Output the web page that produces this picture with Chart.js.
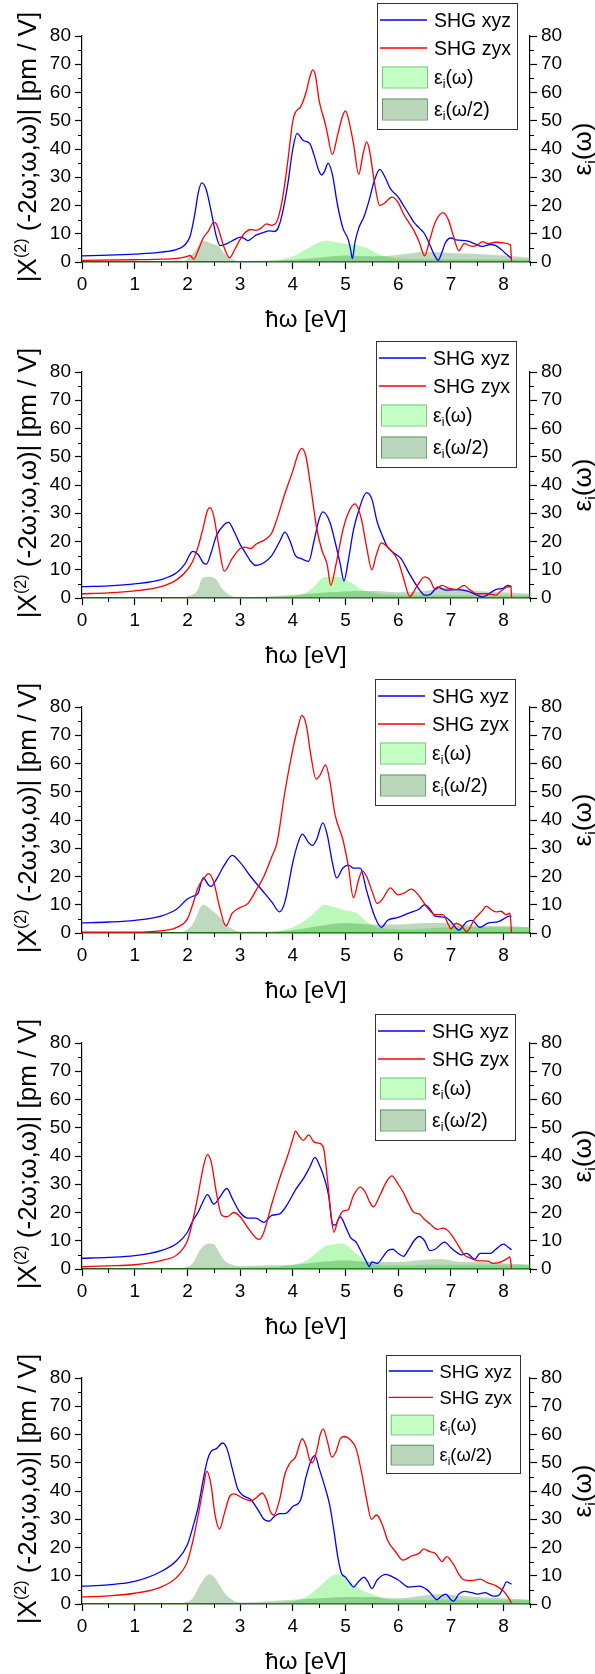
<!DOCTYPE html>
<html>
<head>
<meta charset="utf-8">
<script src="https://cdn.jsdelivr.net/npm/chart.js@4.4.0/dist/chart.umd.min.js"></script>
<style>
  body { margin: 0; background: #fff; width: 595px; height: 1674px; position: relative; overflow: hidden; }
  .panel { position: absolute; left: 0; width: 595px; }
</style>
</head>
<body>
<div id="wrap"></div>
<script>
// axis ticks
const xTickValues = [0, 1, 2, 3, 4, 5, 6, 7, 8];
const xMinorTicks = [0.5, 1.5, 2.5, 3.5, 4.5, 5.5, 6.5, 7.5, 8.5];
const yTickValues = [0, 10, 20, 30, 40, 50, 60, 70, 80];
const yMinorTicks = [5, 15, 25, 35, 45, 55, 65, 75];
const seriesNames = ['SHG xyz', 'SHG zyx', 'εi(ω)', 'εi(ω/2)'];

// panel 1  [energy eV, value]
const p1Xyz = [[0,2.2],[0.5,2.4],[1,2.8],[1.5,3.5],[1.8,4.5],[1.95,6],[2.05,9],[2.1,13],[2.15,18],[2.2,24],[2.27,28],[2.35,26],[2.45,18],[2.55,9],[2.62,5.8],[2.75,6.5],[2.9,8],[3.0,8.8],[3.08,8.3],[3.15,7.6],[3.3,9.5],[3.45,10.5],[3.55,11],[3.65,10.8],[3.72,12],[3.8,17],[3.9,27],[4.0,40],[4.08,45.5],[4.2,43],[4.32,42],[4.4,38],[4.5,32],[4.55,30.8],[4.6,32],[4.67,35],[4.75,31],[4.85,20],[4.95,12],[5.05,8],[5.1,4],[5.13,1.2],[5.18,7],[5.25,12],[5.35,16],[5.45,22],[5.55,29],[5.65,32.8],[5.75,30],[5.85,26],[6.0,23],[6.1,20],[6.2,17],[6.3,14],[6.4,12],[6.5,10],[6.6,6],[6.7,2],[6.76,0.6],[6.82,3],[6.9,7],[7.0,8.5],[7.1,7.8],[7.3,7.5],[7.45,6.5],[7.6,5.5],[7.75,6.2],[7.85,5.8],[7.95,4.5],[8.05,2.8],[8.15,1.2]];
const p1Zyx = [[0,0.6],[1,0.8],[1.5,1.0],[1.8,1.3],[2.0,2.0],[2.05,2.3],[2.12,1.0],[2.2,4],[2.3,8.5],[2.4,11],[2.5,14],[2.55,13.5],[2.6,11],[2.7,5],[2.8,1.5],[2.9,4.5],[3.0,8],[3.1,10.5],[3.2,11.5],[3.3,11.2],[3.4,12],[3.5,13.5],[3.6,13],[3.7,14.5],[3.8,22],[3.9,35],[4.0,50],[4.05,53],[4.15,55],[4.25,60],[4.33,66],[4.38,68],[4.43,66],[4.5,57],[4.6,50],[4.65,46],[4.75,38],[4.85,45],[4.95,52],[5.0,53.5],[5.05,51],[5.15,42],[5.25,31],[5.33,38],[5.4,42.5],[5.45,40],[5.55,28],[5.65,20],[5.75,21],[5.88,23],[6.0,21],[6.1,17],[6.2,14],[6.3,11],[6.4,7],[6.5,2.2],[6.6,8],[6.7,14],[6.85,17.5],[6.95,15],[7.05,9],[7.15,4],[7.25,6.5],[7.4,5.5],[7.5,6],[7.6,7.2],[7.7,6.5],[7.85,7],[8.0,6.8],[8.13,6],[8.15,0]];
const p1EpsW = [[0,0],[3.0,0.1],[3.5,0.3],[3.8,1],[4.0,2],[4.3,5],[4.5,7],[4.65,7.5],[4.8,7],[5.0,6.5],[5.2,6],[5.4,5],[5.6,3],[5.8,1.8],[6.0,1.2],[6.5,1],[7,1],[7.5,1],[8,1],[8.5,1]];
const p1EpsW2 = [[0,0],[1.8,0],[2.0,1],[2.15,4],[2.3,7.5],[2.45,6.5],[2.6,5.5],[2.7,3],[2.85,1],[3.0,0.3],[3.5,0.5],[4.0,0.8],[4.5,1.5],[5.0,2.3],[5.5,2],[6.0,2.5],[6.5,3.5],[7.0,3.2],[7.5,2.8],[8.0,2.3],[8.5,1.5]];

// panel 2
const p2Xyz = [[0,4.0],[0.5,4.3],[1,5],[1.5,6.5],[1.8,9],[1.95,12],[2.1,16.5],[2.2,15.5],[2.3,12.5],[2.36,12],[2.45,16],[2.55,22],[2.7,26],[2.78,26.8],[2.9,23],[3.0,19],[3.1,16],[3.2,13],[3.3,11.5],[3.45,12.5],[3.6,15],[3.75,20],[3.85,23.3],[3.95,20],[4.05,15],[4.15,14],[4.3,13],[4.4,20],[4.5,28],[4.57,30.5],[4.7,27],[4.8,20],[4.9,12],[4.97,6],[5.05,13],[5.15,24],[5.25,31],[5.4,37.3],[5.5,35],[5.6,27],[5.7,22],[5.8,18],[5.95,15.5],[6.05,14],[6.2,9],[6.4,3],[6.5,1],[6.6,1.2],[6.75,3.8],[6.9,2.8],[7.1,3],[7.3,2.5],[7.5,1],[7.6,0.4],[7.7,1.2],[7.85,3],[8.0,3.5],[8.07,4.5],[8.15,4]];
const p2Zyx = [[0,1.5],[0.5,1.8],[1,2.5],[1.5,4],[1.8,6.5],[2.0,10],[2.1,13],[2.2,18],[2.3,25],[2.38,31],[2.43,32],[2.5,29],[2.6,18],[2.7,9.5],[2.85,14],[3.0,17.5],[3.1,18],[3.2,17.5],[3.3,19],[3.5,21],[3.6,23],[3.7,28],[3.85,37],[4.0,45],[4.1,51],[4.17,53],[4.25,50],[4.35,38],[4.45,25],[4.55,17],[4.65,12],[4.72,4.5],[4.82,12],[4.95,24],[5.05,30],[5.18,33.3],[5.3,28],[5.4,18],[5.5,10],[5.58,15],[5.68,19.5],[5.8,18],[5.9,16],[6.0,13],[6.1,7],[6.22,0.5],[6.35,4],[6.5,7.5],[6.6,6.5],[6.7,3],[6.83,4.5],[6.95,3.5],[7.1,3],[7.25,4.5],[7.35,3],[7.5,1.5],[7.7,1.5],[7.85,1],[7.95,2.5],[8.1,4],[8.14,3.8],[8.15,0]];
const p2EpsW = [[0,0],[3.5,0.2],[3.8,0.5],[4.2,1.5],[4.4,4],[4.55,7],[4.7,7.5],[4.85,7.5],[5.0,6.5],[5.15,5],[5.3,3],[5.5,2],[6.0,1],[6.5,1],[7,1],[8.5,1]];
const p2EpsW2 = [[0,0],[1.8,0],[2.0,0.5],[2.2,3],[2.28,7],[2.4,7.5],[2.55,6.5],[2.65,3.5],[2.8,1],[3.0,0.3],[3.5,0.5],[3.9,1],[4.3,1.5],[4.7,2],[5.2,2.5],[5.6,2.5],[6.0,2],[6.5,2.5],[7.0,3.5],[7.5,2.5],[8.0,2],[8.5,1.5]];

// panel 3
const p3Xyz = [[0,3.6],[0.5,3.9],[1,4.5],[1.5,6],[1.8,8.5],[2.0,12],[2.1,13],[2.2,14],[2.3,19.5],[2.4,17],[2.45,16.5],[2.55,19],[2.7,24],[2.85,27.5],[3.0,25],[3.2,20],[3.4,15.5],[3.6,11],[3.75,7.5],[3.85,11],[4.0,25],[4.1,32],[4.18,35],[4.3,32],[4.37,31],[4.45,33],[4.57,39],[4.65,35],[4.75,25],[4.83,19.5],[4.95,23],[5.05,24],[5.15,23],[5.28,23],[5.4,15],[5.55,6],[5.68,2],[5.8,4.5],[6.0,5.5],[6.2,7],[6.4,8.5],[6.5,10],[6.6,8.5],[6.7,6],[6.9,5.5],[7.0,4],[7.15,1],[7.3,4],[7.4,4.5],[7.55,2],[7.7,3.5],[7.9,4],[8.0,5],[8.1,6],[8.15,6]];
const p3Zyx = [[0,0.3],[1,0.3],[1.3,0.5],[1.6,1],[1.8,2],[2.0,5],[2.1,10],[2.2,16],[2.3,19],[2.4,21],[2.5,18],[2.6,10],[2.73,2.5],[2.85,7],[3.0,9],[3.15,10.5],[3.3,15],[3.45,20],[3.6,27],[3.7,32],[3.85,50],[4.0,65],[4.1,73],[4.17,77],[4.25,74],[4.35,62],[4.44,54.5],[4.52,56],[4.62,59.5],[4.7,54],[4.8,42],[4.95,33],[5.05,24],[5.15,12.5],[5.25,19],[5.32,22],[5.4,20],[5.5,15],[5.6,10.5],[5.7,12],[5.85,16],[6.0,13.5],[6.1,14],[6.25,15.5],[6.4,13],[6.55,9],[6.7,6.5],[6.85,6.5],[6.95,3],[7.0,1.5],[7.1,3.5],[7.2,2.5],[7.3,0.5],[7.45,5],[7.6,8],[7.67,9.5],[7.75,8.5],[7.85,7.5],[7.95,7.7],[8.05,6.5],[8.12,7],[8.15,0]];
const p3EpsW = [[0,0],[3.5,0.3],[3.7,0.5],[4.0,2],[4.2,4],[4.4,7],[4.6,10],[4.8,9],[5.0,8],[5.2,7.2],[5.4,4],[5.6,2],[5.8,1.5],[6.0,1.2],[6.5,1.5],[7,2],[7.5,2],[8,2],[8.5,2]];
const p3EpsW2 = [[0,0],[1.8,0],[1.9,0.3],[2.1,3],[2.3,10],[2.4,9],[2.5,7.5],[2.65,5],[2.8,2],[3.0,0.5],[3.5,0.5],[4.0,1],[4.5,2.5],[5.0,3.5],[5.5,3],[6.0,3],[6.5,3.5],[7.0,3.5],[7.5,2.5],[8.0,2.5],[8.5,2]];

// panel 4
const p4Xyz = [[0,3.8],[0.5,4.1],[1,4.7],[1.5,6.5],[1.8,9],[2.0,13],[2.1,17],[2.2,20],[2.3,24],[2.38,26.3],[2.5,23],[2.6,25],[2.75,28.5],[2.85,25],[3.0,20],[3.15,18],[3.3,18],[3.45,16.5],[3.6,19],[3.75,19.5],[3.9,23],[4.05,28],[4.2,32],[4.32,36],[4.42,39.5],[4.5,37],[4.6,32],[4.68,26],[4.75,16],[4.8,15.5],[4.9,18.5],[5.0,15],[5.1,11],[5.2,9.5],[5.3,6],[5.4,2.5],[5.45,0.8],[5.5,2.5],[5.6,2],[5.7,4],[5.8,6.5],[5.9,7],[6.0,5.5],[6.1,4.5],[6.2,7],[6.3,10],[6.4,11.5],[6.5,10],[6.6,6.5],[6.7,7],[6.88,9.5],[7.0,7.5],[7.1,6],[7.2,5],[7.3,5.5],[7.45,3.5],[7.55,5.5],[7.75,5.5],[7.85,7],[8.0,8.8],[8.1,7.5],[8.15,6.8]];
const p4Zyx = [[0,0.8],[0.5,1.1],[1,1.5],[1.5,3],[1.8,5],[2.0,10],[2.1,17],[2.2,26],[2.3,36],[2.38,40.5],[2.45,38],[2.55,27],[2.65,19],[2.75,18.5],[2.88,20],[3.0,18.5],[3.15,14.5],[3.3,11],[3.37,10.5],[3.45,13],[3.6,23],[3.75,32],[3.9,40],[4.0,46],[4.05,48.8],[4.12,47],[4.2,45.5],[4.3,47.5],[4.4,45],[4.5,44.5],[4.58,43],[4.65,33],[4.72,20],[4.78,13],[4.85,17],[4.95,20.5],[5.05,21],[5.15,26],[5.28,29],[5.38,27],[5.45,24],[5.53,22],[5.65,26],[5.78,31],[5.88,33],[6.0,30],[6.1,27],[6.2,23],[6.3,20],[6.4,19.5],[6.5,17.5],[6.6,16],[6.75,14],[6.85,14.5],[6.95,13.5],[7.05,11],[7.15,8],[7.25,5],[7.35,4],[7.5,3],[7.7,2.8],[7.8,2],[7.95,2.5],[8.05,3.5],[8.12,4.3],[8.15,0]];
const p4EpsW = [[0,0],[3.5,0.5],[3.8,1],[4.2,2.5],[4.4,5],[4.6,8],[4.8,8.8],[4.92,9],[5.05,8],[5.2,5.5],[5.4,3],[5.6,1.5],[6.0,1.2],[6.5,1.5],[7,1.5],[8.5,1.5]];
const p4EpsW2 = [[0,0],[1.8,0],[1.9,0.3],[2.1,2],[2.25,7],[2.4,9],[2.5,8.8],[2.6,6],[2.7,3],[2.85,1.5],[3.0,1],[3.5,1.3],[4.0,1.5],[4.5,2.5],[5.0,3],[5.5,2.5],[6.0,2.5],[6.5,3.3],[6.8,3.5],[7.2,2.5],[7.5,2.5],[8.0,2],[8.5,1.5]];

// panel 5
const p5Xyz = [[0,6.3],[0.5,6.8],[1,8],[1.5,11.5],[1.8,15.5],[2.0,21],[2.1,27],[2.2,34],[2.3,44],[2.38,51],[2.45,54],[2.55,55],[2.67,57],[2.75,55],[2.85,48],[2.95,41],[3.05,38.5],[3.2,37],[3.35,33],[3.45,30],[3.55,29.3],[3.65,31],[3.75,32],[3.85,32],[4.0,34.5],[4.15,37],[4.25,45],[4.35,51],[4.42,52.5],[4.5,48],[4.6,42],[4.7,35],[4.78,26],[4.85,17],[4.92,11],[5.0,9.5],[5.1,7],[5.15,6],[5.25,8],[5.35,9.5],[5.42,8],[5.5,5.5],[5.6,8.5],[5.77,10.5],[5.9,9.5],[6.0,8.5],[6.2,6],[6.4,6.3],[6.55,5],[6.65,3],[6.73,1.5],[6.8,2.5],[6.9,3.5],[7.0,1.5],[7.05,1],[7.15,3.5],[7.25,4.5],[7.4,4],[7.5,3.5],[7.65,4],[7.8,2.8],[7.9,3],[8.0,6],[8.05,7.8],[8.15,7]];
const p5Zyx = [[0,2.5],[0.5,2.9],[1,3.8],[1.5,6],[1.8,9.5],[2.0,15],[2.1,22],[2.2,31],[2.3,41],[2.37,47],[2.45,42],[2.52,32],[2.61,26.5],[2.7,32],[2.8,38],[2.88,39],[3.05,37.5],[3.2,36.5],[3.3,37.5],[3.42,39.3],[3.5,37],[3.58,32.5],[3.64,31.5],[3.75,37],[3.85,46],[3.95,50],[4.05,52],[4.18,58.5],[4.25,56],[4.32,51],[4.37,50],[4.45,54],[4.52,60],[4.58,62],[4.65,58],[4.74,52],[4.82,54],[4.9,58.5],[4.97,59.3],[5.1,58],[5.2,55],[5.3,47],[5.4,37],[5.49,30],[5.59,31.5],[5.7,28],[5.8,22.5],[5.95,18.5],[6.09,15.5],[6.25,17],[6.4,18],[6.48,19.5],[6.6,18.5],[6.7,18],[6.78,16],[6.83,15],[6.92,16.8],[7.05,14],[7.15,10.5],[7.25,8.5],[7.4,8.3],[7.55,8.8],[7.7,7.5],[7.85,6.5],[8.0,4.5],[8.1,2],[8.15,0.3]];
const p5EpsW = [[0,0],[3.5,0.3],[3.8,0.5],[4.2,2],[4.5,6],[4.7,9.5],[4.85,10.5],[5.0,9.5],[5.15,7],[5.3,5],[5.5,3.5],[5.7,2],[6.0,1.5],[6.5,1.5],[7,1.5],[8.5,1.5]];
const p5EpsW2 = [[0,0],[1.8,0],[1.9,0.3],[2.1,2],[2.25,7],[2.42,10.5],[2.55,8.5],[2.7,4],[2.85,1.5],[3.0,0.5],[3.5,1],[4.0,1.5],[4.5,2],[5.0,2.5],[5.5,2.5],[6.0,2],[6.5,3],[6.8,3.5],[7.2,2.8],[7.5,2.5],[8.0,2],[8.5,1.5]];

const panels = [
  [p1Xyz, p1Zyx, p1EpsW, p1EpsW2],
  [p2Xyz, p2Zyx, p2EpsW, p2EpsW2],
  [p3Xyz, p3Zyx, p3EpsW, p3EpsW2],
  [p4Xyz, p4Zyx, p4EpsW, p4EpsW2],
  [p5Xyz, p5Zyx, p5EpsW, p5EpsW2]
];

// layout
const FONT = '"Liberation Sans", Arial, Helvetica, sans-serif';
const PITCH = 335.5;
const PLOT_H = 226, TOP_PAD = 36, PANEL_H = 336;
const AXIS_LEFT = 82, AXIS_RIGHT = 530;
const legendBoxes = [
  { x: 377, dy: -33, w: 140, h: 126, s: 1 },
  { x: 376, dy: -31, w: 140, h: 126, s: 1 },
  { x: 375, dy: -28, w: 140, h: 126, s: 1 },
  { x: 375, dy: -29, w: 140, h: 126, s: 1 },
  { x: 386, dy: -23, w: 134, h: 118, s: 0.94 }
];

const toPts = arr => arr.map(p => ({ x: p[0], y: p[1] }));

function drawRich(ctx, parts, x, y, size) {
  let cx = x;
  parts.forEach(p => {
    const small = p.sup || p.sub;
    ctx.font = (small ? size * 0.62 : size) + 'px ' + FONT;
    const dy = p.sup ? -size * 0.4 : p.sub ? size * 0.2 : 0;
    ctx.fillText(p.t, cx, y + dy);
    cx += ctx.measureText(p.t).width;
  });
  return cx - x;
}
function richWidth(ctx, parts, size) {
  let w = 0;
  parts.forEach(p => {
    ctx.font = ((p.sup || p.sub) ? size * 0.62 : size) + 'px ' + FONT;
    w += ctx.measureText(p.t).width;
  });
  return w;
}
function epsParts(name) {
  return name.startsWith('εi') ? [{ t: 'ε' }, { t: 'i', sub: true }, { t: name.slice(2) }] : [{ t: name }];
}

const yTitle = [{ t: '|X' }, { t: '(2)', sup: true }, { t: ' (-2ω;ω,ω)| [pm / V]' }];
const y2Title = [{ t: 'ε' }, { t: 'i', sub: true }, { t: '(ω)' }];
const xTitle = [{ t: 'ħω [eV]' }];

const decor = {
  id: 'decor',
  afterDraw(chart, args, opts) {
    const ctx = chart.ctx, a = chart.chartArea;
    const sx = chart.scales.x, sy = chart.scales.y, sy2 = chart.scales.y2;
    ctx.save();
    // minor ticks
    ctx.strokeStyle = '#000';
    ctx.lineWidth = 1;
    ctx.beginPath();
    xMinorTicks.forEach(v => {
      const px = Math.round(sx.getPixelForValue(v)) + 0.5;
      ctx.moveTo(px, a.bottom); ctx.lineTo(px, a.bottom + 4);
    });
    yMinorTicks.forEach(v => {
      const py = Math.round(sy.getPixelForValue(v)) + 0.5;
      ctx.moveTo(a.left, py); ctx.lineTo(a.left - 4, py);
      const py2 = Math.round(sy2.getPixelForValue(v)) + 0.5;
      ctx.moveTo(a.right, py2); ctx.lineTo(a.right + 4, py2);
    });
    ctx.stroke();

    // axis titles
    ctx.fillStyle = '#000';
    ctx.textBaseline = 'alphabetic';
    const cy = (a.top + a.bottom) / 2;
    let ts = 26;
    let w = richWidth(ctx, yTitle, ts);
    ctx.save();
    ctx.translate(27, cy - 2);
    ctx.rotate(-Math.PI / 2);
    drawRich(ctx, yTitle, -w / 2, ts * 0.36, ts);
    ctx.restore();

    w = richWidth(ctx, y2Title, ts);
    ctx.save();
    ctx.translate(582, cy);
    ctx.rotate(-Math.PI / 2);
    drawRich(ctx, y2Title, -w / 2, ts * 0.36, ts);
    ctx.restore();

    ts = 24;
    w = richWidth(ctx, xTitle, ts);
    drawRich(ctx, xTitle, (a.left + a.right) / 2 - w / 2, a.bottom + 56 + ts * 0.36, ts);

    // legend
    const L = opts.box, s = L.s;
    const bx = L.x, by = a.top + L.dy;
    ctx.fillStyle = '#fff';
    ctx.fillRect(bx, by, L.w, L.h);
    ctx.strokeStyle = '#333';
    ctx.lineWidth = 1;
    ctx.strokeRect(bx + 0.5, by + 0.5, L.w, L.h);
    const rows = [17, 45, 74, 106].map(r => by + r * s);
    const ds = chart.data.datasets;
    [0, 1].forEach(i => {
      ctx.strokeStyle = ds[i].borderColor;
      ctx.lineWidth = 1.3;
      ctx.beginPath();
      ctx.moveTo(bx + 3 * s, rows[i]); ctx.lineTo(bx + 50 * s, rows[i]);
      ctx.stroke();
    });
    [2, 3].forEach(i => {
      const h = 21 * s;
      ctx.fillStyle = opts.swatch[i - 2];
      ctx.fillRect(bx + 5 * s, rows[i] - h / 2, 45 * s, h);
      ctx.strokeStyle = opts.swatchEdge[i - 2];
      ctx.lineWidth = 1;
      ctx.strokeRect(bx + 5 * s + 0.5, rows[i] - h / 2 + 0.5, 45 * s, h);
    });
    ctx.fillStyle = '#000';
    const fs = 19.5 * s;
    seriesNames.forEach((n, i) => {
      drawRich(ctx, epsParts(n), bx + 57 * s, rows[i] + fs * 0.36, fs);
    });
    ctx.restore();
  }
};

const wrap = document.getElementById('wrap');
panels.forEach((series, k) => {
  const plotTop = TOP_PAD + k * PITCH;
  const div = document.createElement('div');
  div.className = 'panel';
  div.style.top = (plotTop - TOP_PAD) + 'px';
  div.style.height = PANEL_H + 'px';
  const cv = document.createElement('canvas');
  cv.width = 595; cv.height = PANEL_H;
  div.appendChild(cv);
  wrap.appendChild(div);

  const tickFont = { family: FONT, size: 19 };
  const yAxis = (pos, width) => ({
    type: 'linear', position: pos, min: 0, max: 80,
    afterBuildTicks: s => { s.ticks = yTickValues.map(v => ({ value: v })); },
    afterFit: s => { s.width = width; },
    ticks: { font: tickFont, color: '#000', padding: 4 },
    grid: { drawOnChartArea: false, drawTicks: true, tickLength: 7, tickColor: '#000', tickWidth: 1.2 },
    border: { display: true, color: '#000', width: 1.2 }
  });

  new Chart(cv, {
    type: 'line',
    data: {
      datasets: [
        { label: seriesNames[0], data: toPts(series[0]), yAxisID: 'y', borderColor: '#0000ff', borderWidth: 1.3, pointRadius: 0, cubicInterpolationMode: 'monotone', fill: false, order: 1 },
        { label: seriesNames[1], data: toPts(series[1]), yAxisID: 'y', borderColor: '#ff0000', borderWidth: 1.3, pointRadius: 0, cubicInterpolationMode: 'monotone', fill: false, order: 0 },
        { label: seriesNames[2], data: toPts(series[2]), yAxisID: 'y2', borderWidth: 0, borderColor: 'rgba(0,0,0,0)', backgroundColor: 'rgba(40,235,40,0.32)', pointRadius: 0, cubicInterpolationMode: 'monotone', fill: 'origin', order: 3 },
        { label: seriesNames[3], data: toPts(series[3]), yAxisID: 'y2', borderWidth: 0, borderColor: 'rgba(0,0,0,0)', backgroundColor: 'rgba(20,120,20,0.28)', pointRadius: 0, cubicInterpolationMode: 'monotone', fill: 'origin', order: 2 }
      ]
    },
    options: {
      responsive: false,
      animation: false,
      events: [],
      layout: { padding: { top: TOP_PAD, left: 0, right: 0, bottom: 0 } },
      plugins: {
        legend: { display: false },
        tooltip: { enabled: false },
        decor: {
          box: legendBoxes[k],
          swatch: ['rgba(150,255,150,0.55)', 'rgba(60,140,60,0.35)'],
          swatchEdge: ['rgba(90,190,90,0.8)', 'rgba(60,120,60,0.7)']
        }
      },
      scales: {
        x: {
          type: 'linear', position: 'bottom', min: 0, max: 8.5,
          afterBuildTicks: s => { s.ticks = xTickValues.map(v => ({ value: v })); },
          afterFit: s => { s.height = PANEL_H - TOP_PAD - PLOT_H; },
          ticks: { font: tickFont, color: '#000', padding: 4, maxRotation: 0 },
          grid: { drawOnChartArea: false, drawTicks: true, tickLength: 7, tickColor: '#000', tickWidth: 1.2 },
          border: { display: true, color: '#1f5f1f', width: 1.4 }
        },
        y: yAxis('left', AXIS_LEFT),
        y2: yAxis('right', 595 - AXIS_RIGHT)
      }
    },
    plugins: [decor]
  });
});
</script>
</body>
</html>
